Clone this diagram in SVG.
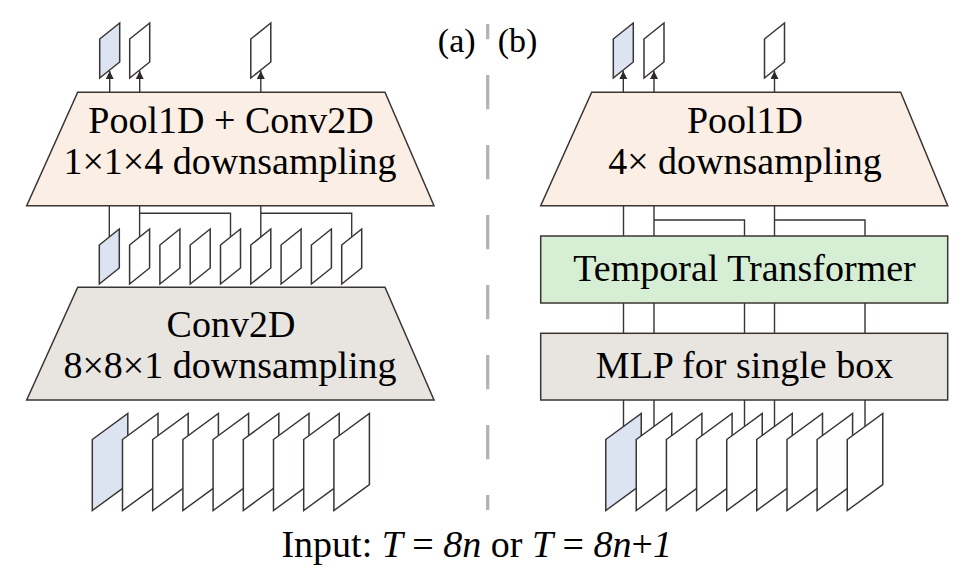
<svg xmlns="http://www.w3.org/2000/svg" width="970" height="574" viewBox="0 0 970 574">
<style>
text{font-family:"Liberation Serif","Times New Roman",serif;fill:#000;}
.lbl{font-size:38px;text-anchor:middle;}
.tag{font-size:34px;text-anchor:middle;}
.pool{fill:#fbefe5;stroke:#3b3434;stroke-width:1.5;}
.gray{fill:#e8e5e0;stroke:#3b3434;stroke-width:1.5;}
.green{fill:#d6efd4;stroke:#3b3434;stroke-width:1.5;}
.fw{fill:#fff;stroke:#3b3434;stroke-width:1.5;stroke-linejoin:miter;}
.fb{fill:#dce4f2;stroke:#3b3434;stroke-width:1.5;stroke-linejoin:miter;}
.c{fill:none;stroke:#3b3434;stroke-width:1.4;}
.dash{stroke:#b4b4b4;stroke-width:3.3;stroke-dasharray:34.3 35.7;stroke-dashoffset:19;}
</style>
<defs>
<marker id="ah" markerWidth="10" markerHeight="10" refX="8" refY="4" orient="auto" markerUnits="userSpaceOnUse">
<path d="M0,0 L8,4 L0,8 Z" fill="#2e2828"/>
</marker>
</defs>

<g id="divider">
<line class="dash" x1="487.7" y1="24" x2="487.7" y2="510"/>
</g>

<g id="connectors">
<line class="c" x1="109.7" y1="92.3" x2="109.7" y2="71" marker-end="url(#ah)"/>
<line class="c" x1="139.7" y1="92.3" x2="139.7" y2="71" marker-end="url(#ah)"/>
<line class="c" x1="260.8" y1="92.3" x2="260.8" y2="71" marker-end="url(#ah)"/>
<line class="c" x1="623.3" y1="92.3" x2="623.3" y2="71" marker-end="url(#ah)"/>
<line class="c" x1="654" y1="92.3" x2="654" y2="71" marker-end="url(#ah)"/>
<line class="c" x1="774.5" y1="92.3" x2="774.5" y2="71" marker-end="url(#ah)"/>
<line class="c" x1="109.3" y1="205.7" x2="109.3" y2="237"/>
<path class="c" d="M139.6,205.7 V237 M139.6,213.3 H230.5 V237"/>
<path class="c" d="M260.8,205.7 V237 M260.8,213.3 H351.7 V237"/>
<line class="c" x1="623.5" y1="205.7" x2="623.5" y2="236"/>
<path class="c" d="M654,205.7 V236 M654,220 H744.5 V236"/>
<path class="c" d="M774.5,205.7 V236 M774.5,220 H865 V236"/>
<path class="c" d="M623.5,303 V333.3 M654,303 V333.3 M744.5,303 V333.3 M774.5,303 V333.3 M865,303 V333.3"/>
<path class="c" d="M623.5,400 V426.5 M654,400 V426.5 M744.5,400 V426.5 M774.5,400 V426.5 M865,400 V426.5"/>
</g>

<g id="pool-conv2d">
<polygon class="pool" points="77.7,92.3 385,92.3 434,205.7 26.7,205.7"/>
<text class="lbl" x="231" y="133">Pool1D + Conv2D</text>
<text class="lbl" x="230" y="174">1×1×4 downsampling</text>
</g>

<g id="conv2d">
<polygon class="gray" points="77.7,287.3 385,287.3 434,400 26.7,400"/>
<text class="lbl" x="231" y="337">Conv2D</text>
<text class="lbl" x="230" y="378">8×8×1 downsampling</text>
</g>

<g id="pool1d">
<polygon class="pool" points="591.7,92.3 900.7,92.3 947.7,205.7 540.7,205.7"/>
<text class="lbl" x="745" y="133">Pool1D</text>
<text class="lbl" x="745" y="174">4× downsampling</text>
</g>

<g id="temporal-transformer">
<rect class="green" x="540.7" y="236" width="407" height="67"/>
<text class="lbl" x="744.5" y="281">Temporal Transformer</text>
</g>

<g id="mlp">
<rect class="gray" x="540.7" y="333.3" width="407" height="66.7"/>
<text class="lbl" x="744.5" y="378">MLP for single box</text>
</g>

<g id="left-output-frames">
<polygon class="fb" points="99.7,39 119.7,23 119.7,62 99.7,78"/>
<polygon class="fw" points="129.7,39 149.7,23 149.7,62 129.7,78"/>
<polygon class="fw" points="250.8,39 270.8,23 270.8,62 250.8,78"/>
</g>

<g id="right-output-frames">
<polygon class="fb" points="613.3,39 633.3,23 633.3,62 613.3,78"/>
<polygon class="fw" points="644,39 664,23 664,62 644,78"/>
<polygon class="fw" points="764.5,39 784.5,23 784.5,62 764.5,78"/>
</g>

<g id="left-middle-frames">
<polygon class="fb" points="99.3,245 119.3,229 119.3,268 99.3,284"/>
<polygon class="fw" points="129.6,245 149.6,229 149.6,268 129.6,284"/>
<polygon class="fw" points="159.9,245 179.9,229 179.9,268 159.9,284"/>
<polygon class="fw" points="190.2,245 210.2,229 210.2,268 190.2,284"/>
<polygon class="fw" points="220.5,245 240.5,229 240.5,268 220.5,284"/>
<polygon class="fw" points="250.8,245 270.8,229 270.8,268 250.8,284"/>
<polygon class="fw" points="281.1,245 301.1,229 301.1,268 281.1,284"/>
<polygon class="fw" points="311.4,245 331.4,229 331.4,268 311.4,284"/>
<polygon class="fw" points="341.7,245 361.7,229 361.7,268 341.7,284"/>
</g>

<g id="left-input-frames">
<polygon class="fb" points="92.3,439.5 127.8,413.5 127.8,484.5 92.3,510.5"/>
<polygon class="fw" points="122.5,439.5 158,413.5 158,484.5 122.5,510.5"/>
<polygon class="fw" points="152.7,439.5 188.2,413.5 188.2,484.5 152.7,510.5"/>
<polygon class="fw" points="182.9,439.5 218.4,413.5 218.4,484.5 182.9,510.5"/>
<polygon class="fw" points="213.1,439.5 248.6,413.5 248.6,484.5 213.1,510.5"/>
<polygon class="fw" points="243.3,439.5 278.8,413.5 278.8,484.5 243.3,510.5"/>
<polygon class="fw" points="273.5,439.5 309,413.5 309,484.5 273.5,510.5"/>
<polygon class="fw" points="303.7,439.5 339.2,413.5 339.2,484.5 303.7,510.5"/>
<polygon class="fw" points="333.9,439.5 369.4,413.5 369.4,484.5 333.9,510.5"/>
</g>

<g id="right-input-frames">
<polygon class="fb" points="605.75,439.5 641.25,413.5 641.25,484.5 605.75,510.5"/>
<polygon class="fw" points="636.25,439.5 671.75,413.5 671.75,484.5 636.25,510.5"/>
<polygon class="fw" points="666.4,439.5 701.9,413.5 701.9,484.5 666.4,510.5"/>
<polygon class="fw" points="696.6,439.5 732.1,413.5 732.1,484.5 696.6,510.5"/>
<polygon class="fw" points="726.75,439.5 762.25,413.5 762.25,484.5 726.75,510.5"/>
<polygon class="fw" points="756.75,439.5 792.25,413.5 792.25,484.5 756.75,510.5"/>
<polygon class="fw" points="787,439.5 822.5,413.5 822.5,484.5 787,510.5"/>
<polygon class="fw" points="817.1,439.5 852.6,413.5 852.6,484.5 817.1,510.5"/>
<polygon class="fw" points="847.25,439.5 882.75,413.5 882.75,484.5 847.25,510.5"/>
</g>

<g id="labels">
<text class="tag" x="456.7" y="52">(a)</text>
<text class="tag" x="517.5" y="52">(b)</text>
<text class="lbl" x="476.7" y="557.3">Input: <tspan font-style="italic">T</tspan> = <tspan font-style="italic">8n</tspan> or <tspan font-style="italic">T</tspan> = <tspan font-style="italic">8n</tspan>+<tspan font-style="italic">1</tspan></text>
</g>
</svg>
